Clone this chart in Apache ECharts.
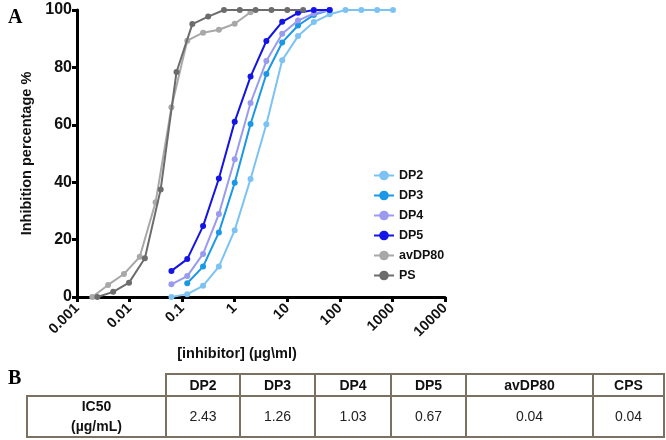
<!DOCTYPE html>
<html>
<head>
<meta charset="utf-8">
<script src="https://cdn.jsdelivr.net/npm/echarts@6/dist/echarts.min.js"></script>
<style>
  html, body { margin: 0; padding: 0; background: #fff; }
  #chart { width: 666px; height: 440px; }
</style>
</head>
<body>
<div id="chart"></div>
<script>
// ---------------- data ----------------
const concDP = [0.0625, 0.125, 0.25, 0.5, 1, 2, 4, 8, 16, 32, 64, 128, 256, 512, 1024];
const concAv = [0.001953125, 0.00390625, 0.0078125, 0.015625, 0.03125, 0.0625, 0.125, 0.25, 0.5, 1, 2];
const concPS = [0.00244140625, 0.0048828125, 0.009765625, 0.01953125, 0.0390625, 0.078125, 0.15625, 0.3125, 0.625, 1.25, 2.5, 5, 10, 20];

const dp2 = [0, 1.0, 3.9, 10.6, 23.3, 41.1, 60.2, 82.5, 90.9, 95.8, 98.5, 100, 100, 100, 100];
const dp3 = [null, 4.8, 10.6, 22.5, 39.8, 60.3, 77.7, 88.7, 94.6, 98.3, 100];
const dp4 = [4.4, 7.3, 15.0, 28.9, 48.0, 67.6, 82.2, 91.7, 96.3, 98.8, 100];
const dp5 = [9.1, 13.2, 24.7, 41.3, 61.1, 76.8, 89.2, 95.9, 99.0, 100, 100];
const avDP80 = [0, 4.2, 8.0, 14.0, 33.0, 66.1, 89.3, 92.1, 93.1, 95.2, 99.2];
const ps = [0, 1.8, 5.0, 13.5, 37.5, 78.4, 95.1, 97.7, 100, 100, 100, 100, 100, 100];

const seriesNames = ['DP2', 'DP3', 'DP4', 'DP5', 'avDP80', 'PS'];
const xTickLabels = ['0.001', '0.01', '0.1', '1', '10', '100', '1000', '10000'];
const yTicks = [0, 20, 40, 60, 80, 100];

const tableHeader = ['DP2', 'DP3', 'DP4', 'DP5', 'avDP80', 'CPS'];
const tableValues = ['2.43', '1.26', '1.03', '0.67', '0.04', '0.04'];
const rowLabel = ['IC50', '(µg/mL)'];

// ---------------- styles ----------------
const colors = ['#7cc3f3', '#1a98e6', '#9a9af0', '#1414e6', '#a8a8a8', '#6c6c6c'];
const FONT = '"Liberation Sans", Arial, sans-serif';

function pairs(xs, ys) {
  const out = [];
  for (let i = 0; i < ys.length; i++) {
    if (ys[i] !== null && ys[i] !== undefined) out.push([xs[i], ys[i]]);
  }
  return out;
}

const seriesData = [
  pairs(concDP, dp2),
  pairs(concDP, dp3),
  pairs(concDP, dp4),
  pairs(concDP, dp5),
  pairs(concAv, avDP80),
  pairs(concPS, ps)
];

const series = seriesNames.map((name, i) => ({
  name: name,
  type: 'line',
  data: seriesData[i],
  symbol: 'circle',
  symbolSize: 6,
  showSymbol: true,
  lineStyle: { width: 2, color: colors[i] },
  itemStyle: { color: colors[i] },
  z: 2 + i,
  animation: false
}));

// ---------------- table (graphic) ----------------
const colEdges = [166, 240, 315, 391, 466, 593, 664];
const tableLeft = 27;
const rowTop = 374, rowMid = 396, rowBottom = 437;
const borderColor = '#7b7163';
const graphics = [];

graphics.push({ type: 'text', left: 8, top: 8, style: { text: 'A', font: 'bold 20px "Liberation Serif", "Times New Roman", serif', fill: '#000' } });
graphics.push({ type: 'text', left: 8, top: 369, style: { text: 'B', font: 'bold 20px "Liberation Serif", "Times New Roman", serif', fill: '#000' } });

// header cells
for (let i = 0; i < tableHeader.length; i++) {
  const x0 = colEdges[i], x1 = colEdges[i + 1];
  graphics.push({ type: 'rect', shape: { x: x0, y: rowTop, width: x1 - x0, height: rowMid - rowTop },
    style: { fill: '#fff', stroke: borderColor, lineWidth: 2 }, z: 1 });
  graphics.push({ type: 'text', x: (x0 + x1) / 2, y: (rowTop + rowMid) / 2 + 1, z: 2,
    style: { text: tableHeader[i], font: 'bold 14px ' + FONT, fill: '#111', align: 'center', verticalAlign: 'middle' } });
}
// data row
graphics.push({ type: 'rect', shape: { x: tableLeft, y: rowMid, width: colEdges[0] - tableLeft, height: rowBottom - rowMid },
  style: { fill: '#fff', stroke: borderColor, lineWidth: 2 }, z: 1 });
graphics.push({ type: 'text', x: (tableLeft + colEdges[0]) / 2, y: 407, z: 2,
  style: { text: rowLabel[0], font: 'bold 14px ' + FONT, fill: '#111', align: 'center', verticalAlign: 'middle' } });
graphics.push({ type: 'text', x: (tableLeft + colEdges[0]) / 2, y: 427, z: 2,
  style: { text: rowLabel[1], font: 'bold 14px ' + FONT, fill: '#111', align: 'center', verticalAlign: 'middle' } });
for (let i = 0; i < tableValues.length; i++) {
  const x0 = colEdges[i], x1 = colEdges[i + 1];
  graphics.push({ type: 'rect', shape: { x: x0, y: rowMid, width: x1 - x0, height: rowBottom - rowMid },
    style: { fill: '#fff', stroke: borderColor, lineWidth: 2 }, z: 1 });
  graphics.push({ type: 'text', x: (x0 + x1) / 2, y: 417, z: 2,
    style: { text: tableValues[i], font: '14px ' + FONT, fill: '#222', align: 'center', verticalAlign: 'middle' } });
}

// ---------------- chart ----------------
const chart = echarts.init(document.getElementById('chart'), null, { renderer: 'canvas' });
chart.setOption({
  animation: false,
  backgroundColor: '#fff',
  color: colors,
  grid: { left: 77, right: 221, top: 10, bottom: 143, containLabel: false },
  legend: {
    data: seriesNames,
    orient: 'vertical',
    left: 368,
    top: 164,
    itemWidth: 20,
    itemHeight: 12,
    itemGap: 7,
    textStyle: { fontFamily: FONT, fontWeight: 'bold', fontSize: 12.5, color: '#111' }
  },
  xAxis: {
    type: 'log',
    logBase: 10,
    min: 0.001,
    max: 10000,
    name: '[inhibitor] (µg\\ml)',
    nameLocation: 'middle',
    nameGap: 45,
    nameTextStyle: { fontFamily: FONT, fontWeight: 'bold', fontSize: 14.5, color: '#111', padding: [0, 48, 0, 0] },
    axisLine: { show: true, onZero: false, lineStyle: { color: '#000', width: 3 } },
    axisTick: { show: true, length: 5, lineStyle: { color: '#000', width: 3 } },
    minorTick: { show: false },
    splitLine: { show: false },
    axisLabel: {
      rotate: 45,
      margin: 9,
      fontFamily: FONT, fontWeight: 'bold', fontSize: 14.5, color: '#111',
      formatter: function (v) {
        const idx = Math.round(Math.log10(v)) + 3;
        return xTickLabels[idx] !== undefined ? xTickLabels[idx] : '';
      }
    }
  },
  yAxis: {
    type: 'value',
    min: yTicks[0],
    max: yTicks[yTicks.length - 1],
    interval: yTicks[1] - yTicks[0],
    name: 'Inhibition percentage %',
    nameLocation: 'middle',
    nameGap: 43,
    nameTextStyle: { fontFamily: FONT, fontWeight: 'bold', fontSize: 14.5, color: '#111' },
    axisLine: { show: true, lineStyle: { color: '#000', width: 3 } },
    axisTick: { show: true, length: 5, lineStyle: { color: '#000', width: 3 } },
    splitLine: { show: false },
    axisLabel: { margin: 5, fontFamily: FONT, fontWeight: 'bold', fontSize: 16, color: '#111' }
  },
  graphic: graphics,
  series: series
});
</script>
</body>
</html>
